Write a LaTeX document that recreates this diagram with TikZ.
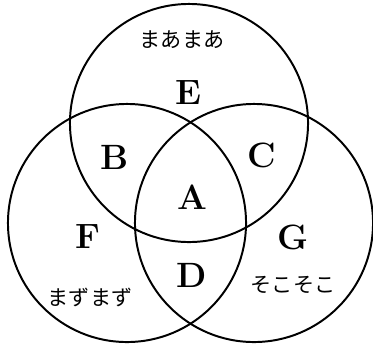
\documentclass[tikz,border=0pt]{standalone}
\usepackage{fontspec}
\newfontfamily\jpfont{Noto Sans CJK JP}
\usetikzlibrary{positioning}

\begin{document}
\begin{tikzpicture}[
  x=0.025cm, y=-0.025cm,
  ring/.style={circle, draw=black, line width=1.4pt, minimum size=5.95cm, inner sep=0pt, outer sep=0pt},
  region/.style={font=\fontsize{25}{27}\selectfont\bfseries},
  word/.style={font=\jpfont\fontsize{15}{17}\selectfont},
]
\useasboundingbox (0,0) rectangle (373,350);

% the three circles
\node[ring] (upper) at (189,123) {};
\node[ring] (left) at (127,223) {};
\node[ring] (right) at (254,223) {};

% region letters
\node[region] (rE) at (188,93) {E};
\node[region] (rB) at (115,157) {B};
\node[region] (rC) at (262,155) {C};
\node[region] (rA) at (192,197) {A};
\node[region] (rF) at (88,237) {F};
\node[region] (rG) at (293,237) {G};
\node[region] (rD) at (192,275) {D};

% captions
\node[word] (wmaa) at (182,40) {まあまあ};
\node[word] (wsoko) at (293,285) {そこそこ};
\node[word] (wmazu) at (90,297) {まずまず};
\end{tikzpicture}
\end{document}
